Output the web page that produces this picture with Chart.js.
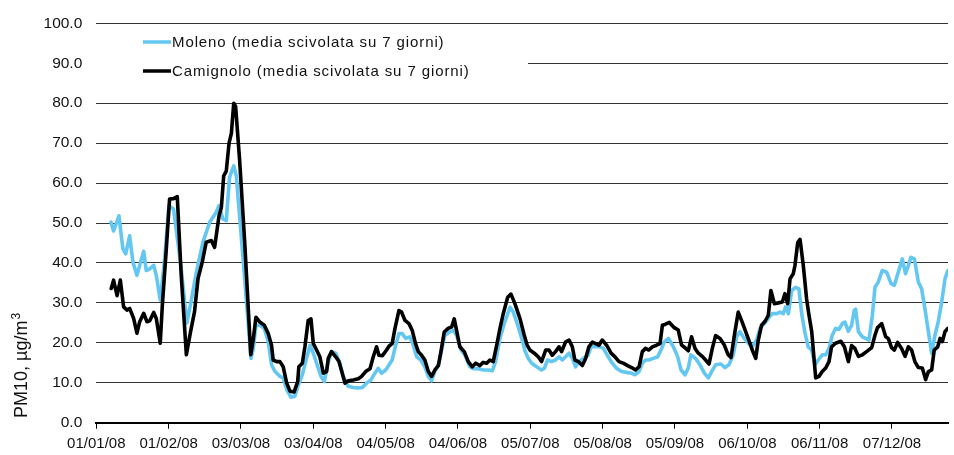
<!DOCTYPE html>
<html>
<head>
<meta charset="utf-8">
<script src="https://cdn.jsdelivr.net/npm/chart.js@4/dist/chart.umd.min.js"></script>
<style>
  html, body { margin: 0; padding: 0; background: #ffffff; }
  canvas { display: block; }
</style>
</head>
<body>
<canvas id="c" width="954" height="455"></canvas>
<script>
// Day of year 2008 (0 = 1 January) and PM10 7-day moving average, µg/m3
const molenoDays = [6.3,7.4,9.7,11.4,12.6,14.3,15.7,17.4,18.6,20.3,21.4,23.1,24.6,25.7,27.4,29.3,31.1,33.1,35,36.5,38.8,40.5,42.9,45.7,48.6,51.4,52.5,54.3,55.7,57.1,58.9,60,62.9,66.3,67.3,68.4,70.1,72,73.7,75.1,76.6,78.7,80.1,81.6,83.4,85.1,86.6,88.3,90.1,91.6,93,94.4,96.3,97.7,99.1,100.8,102.6,104.4,105.8,108,110.1,112.3,114,115.8,117.7,119.4,120.8,122.3,124,125.5,126.8,128.3,129.7,131.1,132.6,134.4,135.8,137.3,139.1,140.8,142.3,143.7,145.1,146.8,148,149.4,151.1,153,154.4,156.3,158,160.1,161.6,163.7,165.8,168,169.7,171.1,173,174.8,177.3,178.7,180.6,182.3,183.7,185.1,186.6,188.7,190.8,192,193.4,195.1,196.8,198.3,199.7,201.1,202.6,204,205.4,206.8,208.7,210.8,212,213.7,215.8,217.3,219.4,221.1,223,225.1,227.3,229.4,230.8,232.6,234,235.4,236.8,238.7,240.6,242.3,243.4,245.2,247.3,249.1,250.6,252.3,253.7,254.8,256.8,258.7,260.6,262.3,263.7,265.4,267.7,269.4,271.1,273,274.4,275.8,277.7,279.4,281.1,283,284.4,286.3,288,289.7,291.6,293,294.4,295.4,296.6,298,299.7,301.1,302.3,303.7,305.1,306.6,308,309.4,311.1,312.6,314,315.4,316.8,318.3,319.7,320.8,322.3,323.7,324.8,325.4,326.6,328.3,329.7,331.1,332.6,333.7,335.1,336.8,338.7,340.6,342,343.7,345.4,346.8,348,349.1,350.6,352.3,353.7,355.1,356.6,358,359.4,360.8,362.3,363.7,364.9];
const molenoPM10 = [50.2,48,51.8,43.5,42.3,46.8,40.2,36.9,39.4,42.9,38.1,38.6,39.4,36.9,30.7,41,54.3,53.5,45,38,25,30,37.7,45.2,50.2,52.7,54.3,51,50.6,61.4,64.3,61.8,41,16.1,18.6,24.4,24.4,23.6,20.2,14.5,12.8,11.6,11.2,8.3,6.4,6.6,9.5,12,16.1,19.4,17.4,14.9,11.6,10.3,14.5,17.8,17.4,14.9,11.6,9.1,8.8,8.7,8.8,9.9,10.7,12.4,13.6,12.4,13.2,14.5,15.7,19.4,22.3,22.3,21.1,21.5,19.4,16.5,15.7,14,11.6,10.5,12.8,14.9,18.2,21.9,22.6,23.1,21.9,18.2,16.9,14,13.5,13.5,13.2,13.2,13,15.3,21.1,24.8,28.9,27.7,24.4,21.1,18,16.1,14.9,14,13.2,13.6,15.7,15.3,15.7,16.5,15.7,16.5,17.4,16.1,14,15.3,16.1,16.9,19,19,19,18.6,16.5,14.9,13.6,12.8,12.6,12.4,12,12.8,14.9,15.7,15.7,16.1,16.5,18.6,20.2,21.1,19,16.6,13.2,12,13.7,17,16.1,14.5,12.4,11.2,12.8,14.5,14.7,13.8,14.5,17,21.5,22.8,21.1,19.9,19,20.7,23.6,24.8,26.1,27.3,27.3,27.7,27.3,29,27.3,33.1,33.9,33.5,27.3,22.5,19,18.2,14.5,15.7,17,17,18.6,21.9,23.6,23.4,24.8,25.2,22.9,24.4,28.1,28.4,22.8,21.5,21.1,20.7,26.9,33.9,35.2,38.1,37.7,34.8,34.4,37.7,41,37.3,39.3,41.4,41,35.2,33.5,28.6,22.8,17.4,21.9,25.2,30.2,36,38.1];

const camignoloDays = [6.4,7.4,8.9,10.3,11.7,13.1,14.3,16,17.4,18.6,20.3,21.7,22.9,24.6,25.7,27.4,28.3,30,31.4,33.1,34.7,36.4,38.6,40.4,42.1,43.6,45.4,47.1,49.3,50.7,52.6,53.6,54.6,55.7,56.9,57.9,58.9,59.7,61.4,63.6,66.2,67.3,68.4,70.1,72,73.7,75.1,75.8,77.3,78.7,80.1,81.6,83,84.8,86.3,86.8,88.3,89.4,90.8,92,93,94.4,95.8,97.3,98.7,99.4,100.8,102.6,104,105.4,106.6,108,110.1,112.3,113.7,115.4,117.3,118.7,120.1,121.1,122.6,124.4,125.5,126.8,128,129.7,130.8,132.3,134,135.4,136.8,138,139.4,140.8,142.3,143.7,145.1,146.6,147.7,149.1,150.8,152.3,153.4,154.4,155.8,157.7,159.4,161.1,162.6,164.4,165.8,167.3,168.7,170.1,171.6,173,174.4,176.3,177.7,179.4,181.6,183.4,184.6,185.8,187.7,189.4,190.8,192.6,194,195.4,196.8,198.3,199.4,201.1,202.6,204,205.1,206.6,208.3,209.7,211.1,212.6,214,215.4,216.8,218.7,220.6,222.3,224,225.8,227.7,229.4,231.1,232.6,234,235.4,236.8,238.3,240.1,241.6,242.6,243.7,245.6,247.7,249.4,250.8,252.6,253.7,255.1,256.6,258,259.7,261.1,262.6,264,265.4,267.3,269.1,270.8,272,273.7,275.1,276.8,278.3,280.1,281.1,282.6,283.7,285.1,286.6,288,289.1,290.6,292.3,294,295.1,296.3,297.3,298.7,299.4,300.6,301.6,303,304.4,305.4,306.6,307.7,308.3,309.7,311.1,312.6,314,315.1,316.8,319.1,320.6,322.3,323.7,325.1,326.6,328.3,330.1,332.3,333.7,334.8,336.6,338.3,339.4,340.8,342,343.4,345.1,346.6,348,349.4,350.8,352.3,354,355.4,356.6,358,359.1,360.6,361.6,362.6,363.7,364.9];
const camignoloPM10 = [33.6,35.7,31.8,35.7,29,28.2,28.6,26.1,22.4,25.3,27.4,25.3,25.5,27.6,26.1,19.9,29.4,43.5,56,56.1,56.6,36.9,17,22.8,27.8,36.1,40.2,45.2,45.6,43.9,51.8,53.9,61.8,63,70,72.5,80,79.2,65.9,45.2,17,21,26.4,25.2,24.4,22.3,19.4,15.7,15.3,15.3,14,9.9,7.9,7.7,10.3,14,14.9,19,25.6,26,19.8,18.2,16.5,12.4,12.8,16.1,17.8,16.5,15.3,12.4,9.9,10.5,10.7,11,11.6,12.8,13.5,16.5,19,16.9,16.8,18.2,19.2,19.8,23.6,28.1,27.7,25.6,24.8,23.1,19.8,17.8,16.9,15.7,12.8,11.6,13.2,14.3,17.8,22.7,23.6,24,26,23.1,19,17.8,15.3,14,14.9,14.3,15.1,14.9,15.7,15.3,19.4,23.6,27.3,31.4,32.2,29.8,26,21.9,19.5,18.2,17.4,16.5,15.3,18.2,18.2,16.9,17.8,19,17.8,20.2,20.7,19,15.7,15.3,14.3,16.1,19,20.2,19.8,19.4,20.7,19.4,17.4,16.5,15.3,14.9,14.3,13.8,13.2,14,17.8,18.6,18.2,19,19.4,19.8,24.4,24.6,25.1,23.8,23.2,19.5,18.6,18,21.5,18.6,17.4,16.6,15.7,14.7,18.6,21.8,21.1,19.5,17,16.3,22.8,27.7,25.2,22.8,19.9,18.2,16.1,20.7,24.4,25.4,26.9,33.1,29.8,30,30.2,32.3,29.8,36,37.3,39.3,45.1,45.9,39.3,31,27,22.8,15.3,11.2,11.6,12.8,13.7,15.3,19,19.9,20.4,19,15.3,19.3,18.6,16.6,17,17.8,18.8,21.9,23.8,24.8,21.5,21.1,18.8,18.2,20.1,18.6,16.6,19,18.2,15.3,13.8,13.7,10.8,12.8,13.2,18.2,19,21.1,20.3,22.8,23.6];

const tickDays = [0,31,62,93,124,155,186,217,248,279,310,341];
const tickLabels = ['01/01/08','01/02/08','03/03/08','03/04/08','04/05/08','04/06/08','05/07/08','05/08/08','05/09/08','06/10/08','06/11/08','07/12/08'];
const seriesNames = ['Moleno (media scivolata su 7 giorni)', 'Camignolo (media scivolata su 7 giorni)'];
const yTitleMain = 'PM10, µg/m';
const yTitleSup = '3';

const FONT = "'Liberation Sans', Arial, sans-serif";
const BLUE = '#63c7f1';
const TEXT = '#111111';

const molenoData = molenoDays.map((d, i) => ({ x: d, y: molenoPM10[i] }));
const camignoloData = camignoloDays.map((d, i) => ({ x: d, y: camignoloPM10[i] }));

const decorPlugin = {
  id: 'decor',
  afterDraw(chart) {
    const ctx = chart.ctx;
    const area = chart.chartArea;
    ctx.save();
    // legend box
    ctx.fillStyle = '#ffffff';
    ctx.fillRect(area.left - 3, 25, 528 - area.left + 3, 64);
    const items = [{ c: BLUE, y: 42 }, { c: '#000000', y: 71 }];
    items.forEach((it, i) => {
      ctx.strokeStyle = it.c;
      ctx.lineWidth = 3.5;
      ctx.beginPath();
      ctx.moveTo(143, it.y);
      ctx.lineTo(171, it.y);
      ctx.stroke();
      ctx.fillStyle = TEXT;
      ctx.font = '15px ' + FONT;
      ctx.letterSpacing = '0.9px';
      ctx.textBaseline = 'middle';
      ctx.textAlign = 'left';
      ctx.fillText(seriesNames[i], 172, it.y + 1);
    });
    ctx.letterSpacing = '0px';
    // y axis title
    ctx.translate(27, 418);
    ctx.rotate(-Math.PI / 2);
    ctx.fillStyle = TEXT;
    ctx.textBaseline = 'alphabetic';
    ctx.textAlign = 'left';
    ctx.font = '18px ' + FONT;
    ctx.fillText(yTitleMain, 0, 0);
    const w = ctx.measureText(yTitleMain).width;
    ctx.font = '12px ' + FONT;
    ctx.fillText(yTitleSup, w + 1, -7);
    ctx.restore();
  }
};

new Chart(document.getElementById('c'), {
  type: 'line',
  data: {
    datasets: [
      { label: seriesNames[1], data: camignoloData, borderColor: '#000000', borderWidth: 3.6, order: 0 },
      { label: seriesNames[0], data: molenoData, borderColor: BLUE, borderWidth: 3.6, order: 1 }
    ]
  },
  options: {
    responsive: false,
    devicePixelRatio: 1,
    animation: false,
    elements: {
      point: { radius: 0, hoverRadius: 0 },
      line: { tension: 0, borderJoinStyle: 'round', borderCapStyle: 'round' }
    },
    layout: { padding: { top: 19.5, right: 6, left: 0, bottom: 0 } },
    plugins: { legend: { display: false }, tooltip: { enabled: false } },
    scales: {
      x: {
        type: 'linear',
        min: 0,
        max: 365,
        afterBuildTicks(scale) { scale.ticks = tickDays.map(v => ({ value: v })); },
        afterFit(scale) { scale.height = 32.3; },
        ticks: {
          autoSkip: false,
          maxRotation: 0,
          minRotation: 0,
          padding: 6,
          color: TEXT,
          font: { family: FONT, size: 15 },
          callback(v) { const i = tickDays.indexOf(v); return i >= 0 ? tickLabels[i] : ''; }
        },
        grid: { drawOnChartArea: false, drawTicks: true, tickLength: 6, color: '#000000', lineWidth: 1 },
        border: { display: true, color: '#000000', width: 2 }
      },
      y: {
        min: 0,
        max: 100,
        afterFit(scale) { scale.width = 96.3; },
        ticks: {
          stepSize: 10,
          padding: 14,
          color: TEXT,
          font: { family: FONT, size: 15.5 },
          callback(v) { return Number(v).toFixed(1); }
        },
        grid: { color: '#333333', lineWidth: 1, drawTicks: false },
        border: { display: false }
      }
    }
  },
  plugins: [decorPlugin]
});
</script>
</body>
</html>
